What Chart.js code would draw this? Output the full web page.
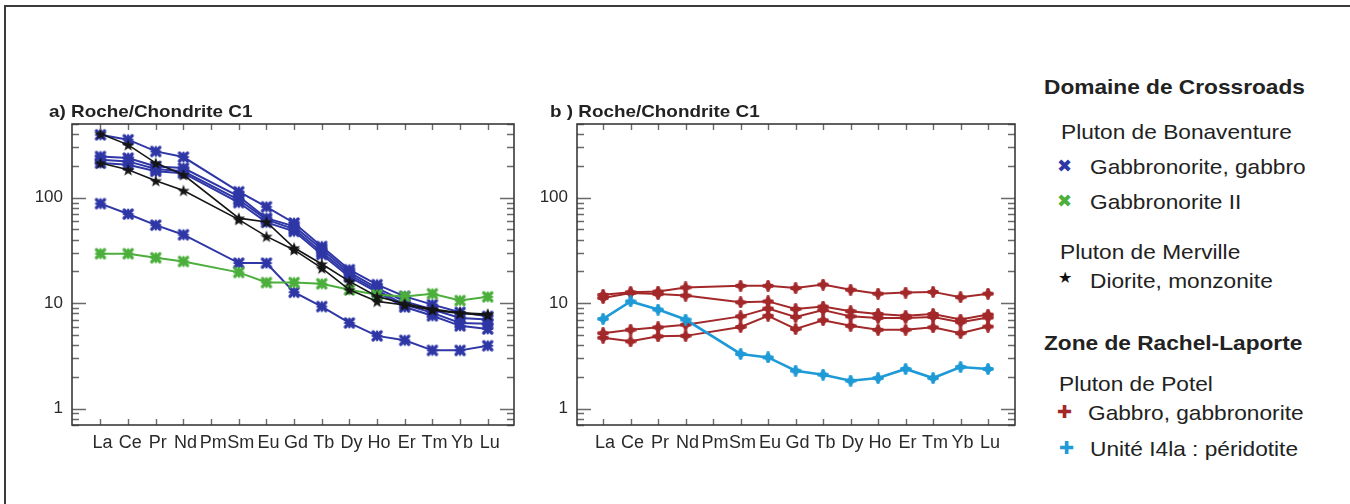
<!DOCTYPE html>
<html><head><meta charset="utf-8">
<script src="https://cdn.jsdelivr.net/npm/chart.js@4.4.0/dist/chart.umd.min.js"></script>
<style>
html,body{margin:0;padding:0;background:#fff;}
#wrap{position:relative;width:1350px;height:504px;overflow:hidden;font-family:"Liberation Sans",Arial,sans-serif;color:#222;background:#fff;}
.cv{position:absolute;top:0;height:504px;}
.t{position:absolute;white-space:nowrap;transform-origin:0 50%;font-size:21px;line-height:21px;transform:scaleX(1.08);}
.b{font-weight:bold;}
.ttl{position:absolute;white-space:nowrap;transform-origin:0 50%;font-size:17px;line-height:17px;font-weight:bold;transform:scaleX(1.11);}
.sym{position:absolute;font-family:"DejaVu Sans",sans-serif;line-height:18px;font-size:18px;}
#frameT{position:absolute;left:5px;top:5px;width:1345px;height:0;border-top:2px solid #3a3a3a;}
#frameL{position:absolute;left:4px;top:5px;width:0;height:499px;border-left:2px solid #3a3a3a;}
</style></head>
<body>
<div id="wrap">
  <div id="frameT"></div><div id="frameL"></div>
  <canvas id="ca" class="cv" style="left:0;width:530px;" width="530" height="504"></canvas>
  <canvas id="cb" class="cv" style="left:500px;width:530px;" width="530" height="504"></canvas>
  <div class="ttl" style="left:49px;top:103px;">a) Roche/Chondrite C1</div>
  <div class="ttl" style="left:550px;top:103px;">b ) Roche/Chondrite C1</div>

  <div class="t b" style="left:1044px;top:76px;">Domaine de Crossroads</div>
  <div class="t" style="left:1061px;top:121px;">Pluton de Bonaventure</div>
  <div class="sym" style="left:1057px;top:157px;color:#2f37a6;">✖</div>
  <div class="t" style="left:1090px;top:156px;">Gabbronorite, gabbro</div>
  <div class="sym" style="left:1057px;top:192px;color:#4caf3c;">✖</div>
  <div class="t" style="left:1090px;top:191px;">Gabbronorite II</div>
  <div class="t" style="left:1060px;top:241px;">Pluton de Merville</div>
  <div class="sym" style="left:1058px;top:269px;color:#111;font-size:16px;">★</div>
  <div class="t" style="left:1090px;top:270px;">Diorite, monzonite</div>
  <div class="t b" style="left:1044px;top:332px;">Zone de Rachel-Laporte</div>
  <div class="t" style="left:1059px;top:373px;">Pluton de Potel</div>
  <div class="sym" style="left:1057px;top:403px;color:#a3282a;">✚</div>
  <div class="t" style="left:1088px;top:402px;">Gabbro, gabbronorite</div>
  <div class="sym" style="left:1059px;top:439px;color:#1e9ad6;">✚</div>
  <div class="t" style="left:1090px;top:438px;">Unité I4la : péridotite</div>
</div>
<script>
// ---- data ----
const elements = ['La','Ce','Pr','Nd','Pm','Sm','Eu','Gd','Tb','Dy','Ho','Er','Tm','Yb','Lu'];
const yTickLabels = [1, 10, 100];
const yMinorTicks = [0.7,0.8,0.9,2,3,4,5,6,7,8,9,20,30,40,50,60,70,80,90,200,300,400,500];

// Panel a : Domaine de Crossroads
const gabbroBlue1 = [395, 355, 275, 243, null, 114, 82, 57.6, 34.5, 20.8, 15, 11.6, 9.7, 8.2, 7.5];
const gabbroBlue2 = [246, 238, 198, 191, null, 103, 64, 53.5, 32.6, 19.6, 13.9, 10.4, 8.7, 7.25, 7.0];
const gabbroBlue3 = [229, 221, 187, 178, null, 95.6, 62, 50.5, 30.6, 18.6, 13.2, 9.7, 8.1, 6.5, 6.4];
const gabbroBlue4 = [213, 205, 178, 171, null, 90, 58.4, 48, 29, 17.7, 12.7, 9.2, 7.6, 6.1, 5.7];
const gabbroBlue5 = [88, 70, 55, 44.6, null, 24, 24, 12.7, 9.3, 6.5, 4.9, 4.45, 3.57, 3.57, 3.95];
const gabbronoriteII = [29.5, 29.5, 27, 24.9, null, 19.6, 15.7, 15.7, 15.3, 13.4, 12, 11.6, 12.3, 10.6, 11.5];
const diorite1 = [404, 317, 213, 165, null, 64, 59, 33.5, 23.5, 16.1, 11.6, 9.9, 8.8, 8.1, 7.9];
const diorite2 = [213, 184, 145, 117, null, 62, 43, 32, 21.5, 13.4, 10.4, 9.6, 8.6, 8.0, 7.7];

// Panel b : Zone de Rachel-Laporte
const potel1 = [12.0, 12.7, 12.9, 14.1, null, 14.6, 14.6, 13.9, 15.0, 13.4, 12.3, 12.6, 12.8, 11.4, 12.3];
const potel2 = [11.2, 12.5, 12.2, 11.8, null, 10.2, 10.4, 8.8, 9.3, 8.4, 7.9, 7.6, 7.9, 7.0, 7.8];
const potel3 = [5.2, 5.6, 5.9, 6.25, null, 7.5, 8.9, 7.4, 8.6, 7.5, 7.25, 7.25, 7.4, 6.6, 7.3];
const potel4 = [4.7, 4.35, 4.85, 4.9, null, 5.95, 7.6, 5.7, 6.9, 6.1, 5.6, 5.6, 5.9, 5.2, 6.0];
const peridotite = [7.1, 10.4, 8.7, 7.0, null, 3.3, 3.06, 2.29, 2.1, 1.84, 1.95, 2.38, 1.95, 2.48, 2.38];

const BLUE = '#2f37a6', GREEN = '#4caf3c', BLACK = '#151515', RED = '#a3282a', CYAN = '#1e9ad6';

// ---- marker images ----
function markX(color){
  const s=14,c=document.createElement('canvas');c.width=c.height=s;const g=c.getContext('2d');
  g.strokeStyle=color;g.lineCap='round';g.lineWidth=3.4;g.beginPath();
  g.moveTo(3,3);g.lineTo(s-3,s-3);g.moveTo(s-3,3);g.lineTo(3,s-3);g.stroke();
  g.lineWidth=2.2;g.beginPath();g.moveTo(s/2,2.5);g.lineTo(s/2,s-2.5);g.moveTo(2.5,s/2);g.lineTo(s-2.5,s/2);g.stroke();
  return c;
}
function markStar(color){
  const s=14,c=document.createElement('canvas');c.width=c.height=s;const g=c.getContext('2d');
  g.fillStyle=color;g.beginPath();
  for(let i=0;i<10;i++){const r=i%2?2.6:6.5;const a=-Math.PI/2+i*Math.PI/5;
    const x=s/2+r*Math.cos(a),y=s/2+0.6+r*Math.sin(a);i?g.lineTo(x,y):g.moveTo(x,y);}
  g.closePath();g.fill();return c;
}
function markPlus(color){
  const s=12,c=document.createElement('canvas');c.width=c.height=s;const g=c.getContext('2d');
  g.strokeStyle=color;g.fillStyle=color;g.lineCap='round';g.lineWidth=3.8;g.beginPath();
  g.moveTo(s/2,2);g.lineTo(s/2,s-2);g.moveTo(2,s/2);g.lineTo(s-2,s/2);g.stroke();
  g.beginPath();g.arc(s/2,s/2,3.6,0,Math.PI*2);g.fill();return c;
}

function ds(values,color,marker,width){
  return {data:values.map((v,i)=>({x:i,y:v})),borderColor:color,backgroundColor:color,
    borderWidth:width,pointStyle:marker,pointRadius:6,pointHoverRadius:6,spanGaps:true,tension:0};
}

const frameTicks = {
  id:'frameTicks',
  afterDatasetsDraw(chart){
    const {ctx,chartArea:a,scales:{x,y}}=chart;
    ctx.save();
    ctx.strokeStyle='#6a6a6a';ctx.lineWidth=1.4;ctx.beginPath();
    const tick=(v,len)=>{const py=Math.round(y.getPixelForValue(v))+0.5;
      ctx.moveTo(a.left,py);ctx.lineTo(a.left+len,py);ctx.moveTo(a.right,py);ctx.lineTo(a.right-len,py);};
    yTickLabels.forEach(v=>tick(v,14));
    yMinorTicks.forEach(v=>tick(v,7));
    elements.forEach((e,i)=>{const px=Math.round(x.getPixelForValue(i))+0.5;
      ctx.moveTo(px,a.top);ctx.lineTo(px,a.top+6);ctx.moveTo(px,a.bottom);ctx.lineTo(px,a.bottom-6);});
    ctx.stroke();
    ctx.strokeStyle='#3a3a3a';ctx.lineWidth=1.6;
    ctx.strokeRect(a.left,a.top,a.right-a.left,a.bottom-a.top);
    ctx.restore();
  }
};

function makeChart(id,datasets,yWidth,xmin,xmax,rightPad){
  return new Chart(document.getElementById(id),{
    type:'line',
    data:{datasets},
    options:{
      responsive:false,animation:false,events:[],
      layout:{padding:{left:0,top:124,right:rightPad,bottom:0}},
      plugins:{legend:{display:false},tooltip:{enabled:false},title:{display:false}},
      scales:{
        x:{type:'linear',min:xmin,max:xmax,
          afterBuildTicks:s=>{s.ticks=elements.map((_,i)=>({value:i}));},
          afterFit:s=>{s.height=79;},
          grid:{display:false,drawTicks:false},border:{display:false},
          ticks:{autoSkip:false,maxRotation:0,minRotation:0,padding:7,labelOffset:2,color:'#2a2a2a',
            font:{family:'"Liberation Sans", Arial, sans-serif',size:18},
            callback:v=>elements[v]}},
        y:{type:'logarithmic',min:0.7,max:500,
          afterBuildTicks:s=>{s.ticks=yTickLabels.map(v=>({value:v}));},
          afterFit:s=>{s.width=yWidth;},
          grid:{display:false,drawTicks:false},border:{display:false},
          ticks:{autoSkip:false,padding:9,color:'#2a2a2a',
            font:{family:'"Liberation Sans", Arial, sans-serif',size:17},
            callback:v=>String(v)}}
      }
    },
    plugins:[frameTicks]
  });
}

const X_B=markX(BLUE),X_G=markX(GREEN),S_K=markStar(BLACK),P_R=markPlus(RED),P_C=markPlus(CYAN);

makeChart('ca',[
  ds(diorite1,BLACK,S_K,1.6),
  ds(diorite2,BLACK,S_K,1.6),
  ds(gabbronoriteII,GREEN,X_G,2),
  ds(gabbroBlue1,BLUE,X_B,2),
  ds(gabbroBlue2,BLUE,X_B,2),
  ds(gabbroBlue3,BLUE,X_B,2),
  ds(gabbroBlue4,BLUE,X_B,2),
  ds(gabbroBlue5,BLUE,X_B,2)
],72,-1.03,14.95,16);

makeChart('cb',[
  ds(peridotite,CYAN,P_C,2.6),
  ds(potel1,RED,P_R,2),
  ds(potel2,RED,P_R,2),
  ds(potel3,RED,P_R,2),
  ds(potel4,RED,P_R,2)
],77,-0.95,14.98,15);
</script>
</body></html>
